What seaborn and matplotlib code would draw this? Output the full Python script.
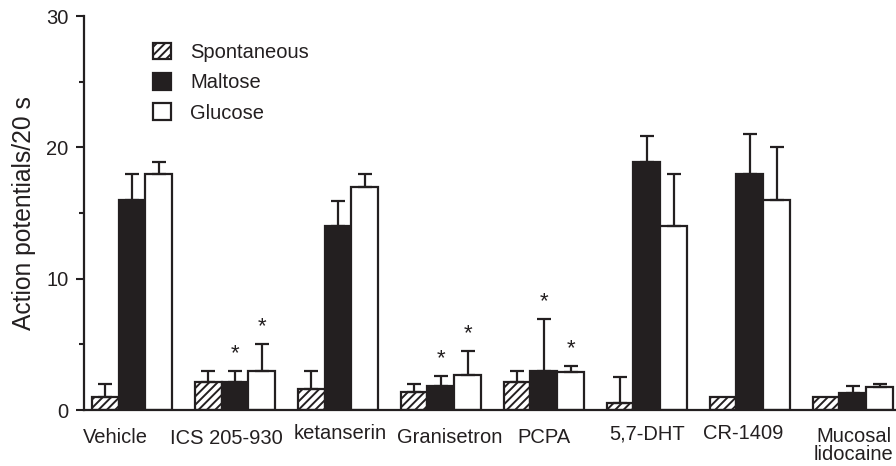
import matplotlib
matplotlib.use("Agg")
import matplotlib.pyplot as plt
from matplotlib.patches import Patch
from matplotlib.ticker import MultipleLocator
from matplotlib.transforms import ScaledTranslation
import seaborn as sns
import pandas as pd
import numpy as np

categories = ["Vehicle", "ICS 205-930", "ketanserin", "Granisetron", "PCPA",
              "5,7-DHT", "CR-1409", "Mucosal\nlidocaine"]
series = ["Spontaneous", "Maltose", "Glucose"]

spont_mean = [1.0, 2.1, 1.6, 1.4, 2.1, 0.5, 1.0, 1.0]
spont_err = [1.0, 0.9, 1.4, 0.6, 0.9, 2.0, 0.0, 0.0]
maltose_mean = [16.0, 2.1, 14.0, 1.8, 3.0, 18.9, 18.0, 1.3]
maltose_err = [2.0, 0.9, 1.9, 0.8, 3.9, 2.0, 3.0, 0.5]
glucose_mean = [18.0, 3.0, 17.0, 2.7, 2.9, 14.0, 16.0, 1.75]
glucose_err = [0.9, 2.0, 1.0, 1.8, 0.45, 4.0, 4.0, 0.25]
maltose_sig = [0, 1, 0, 1, 1, 0, 0, 0]
glucose_sig = [0, 1, 0, 1, 1, 0, 0, 0]

means = [spont_mean, maltose_mean, glucose_mean]
errs = [spont_err, maltose_err, glucose_err]
sigs = [None, maltose_sig, glucose_sig]

INK = "#231f20"
FS = 14.5

df = pd.DataFrame({
    "category": categories * 3,
    "series": [s for s in series for _ in categories],
    "value": spont_mean + maltose_mean + glucose_mean,
})

sns.set_style("ticks")
plt.rcParams["font.family"] = ["Liberation Sans", "DejaVu Sans"]
plt.rcParams["hatch.linewidth"] = 1.4

fig = plt.figure(figsize=(8.96, 4.66), dpi=100)
ax = fig.add_axes([84 / 896, 56 / 466, 812 / 896, 394 / 466])

palette = {"Spontaneous": "white", "Maltose": INK, "Glucose": "white"}
sns.barplot(data=df, x="category", y="value", hue="series", order=categories,
            hue_order=series, palette=palette, errorbar=None, width=0.78,
            edgecolor=INK, linewidth=1.6, ax=ax, legend=False, saturation=1)

bar_containers = list(ax.containers)
for i, cont in enumerate(bar_containers):
    xs, ms, es = [], [], []
    for bar, m, e in zip(cont, means[i], errs[i]):
        bar.set_edgecolor(INK)
        if i == 0:
            bar.set_hatch("////")
        if e > 0:
            xs.append(bar.get_x() + bar.get_width() / 2)
            ms.append(m)
            es.append(e)
    ax.errorbar(xs, ms, yerr=[np.zeros(len(es)), es], fmt="none", ecolor=INK,
                elinewidth=1.6, capsize=5, capthick=1.6, zorder=1)
    if sigs[i] is not None:
        for bar, m, e, s in zip(cont, means[i], errs[i], sigs[i]):
            if s:
                ax.annotate("*", (bar.get_x() + bar.get_width() / 2, m + e),
                            xytext=(0, 8.5), textcoords="offset points",
                            ha="center", va="baseline", fontsize=16, color=INK)

ax.set_ylim(0, 30)
ax.set_xlim(-0.466, 7.42)
ax.yaxis.set_major_locator(MultipleLocator(10))
ax.yaxis.set_minor_locator(MultipleLocator(5))
ax.tick_params(axis="y", which="major", length=6, width=1.5, color=INK,
               labelsize=FS, pad=5, labelcolor=INK, direction="out")
ax.tick_params(axis="y", which="minor", length=3.5, width=1.5, color=INK,
               direction="out")
ax.tick_params(axis="x", length=0, labelsize=FS, pad=13, labelcolor=INK)

# hand-placement nudges of the category labels (pixels), as in the original
label_nudge = {"Vehicle": (-17, 0), "ICS 205-930": (-9, -1), "ketanserin": (2, 4),
               "Granisetron": (9, 0), "5,7-DHT": (0, 4), "CR-1409": (-7, 4),
               "Mucosal\nlidocaine": (1, 1)}
for lab in ax.get_xticklabels():
    lab.set_linespacing(0.95)
    dx, dy = label_nudge.get(lab.get_text(), (0, 0))
    if dx or dy:
        lab.set_transform(lab.get_transform() +
                          ScaledTranslation(dx / 100, dy / 100, fig.dpi_scale_trans))
ax.set_xlabel("")
ax.set_ylabel("Action potentials/20 s", fontsize=17.7, color=INK)
ax.yaxis.set_label_coords(-0.059, 0.5)
for side in ["top", "right"]:
    ax.spines[side].set_visible(False)
for side in ["left", "bottom"]:
    ax.spines[side].set_linewidth(1.6)
    ax.spines[side].set_color(INK)

handles = [
    Patch(facecolor="white", edgecolor=INK, hatch="////", linewidth=1.6),
    Patch(facecolor=INK, edgecolor=INK, linewidth=1.6),
    Patch(facecolor="white", edgecolor=INK, linewidth=1.6),
]
leg = ax.legend(handles, series, loc="upper left", bbox_to_anchor=(0.0726, 0.958),
                frameon=False, fontsize=FS, handlelength=0.9, handleheight=0.9,
                labelspacing=0.55, handletextpad=0.95, borderpad=0)
for t in leg.get_texts():
    t.set_color(INK)

fig.savefig("out.png", dpi=100)
